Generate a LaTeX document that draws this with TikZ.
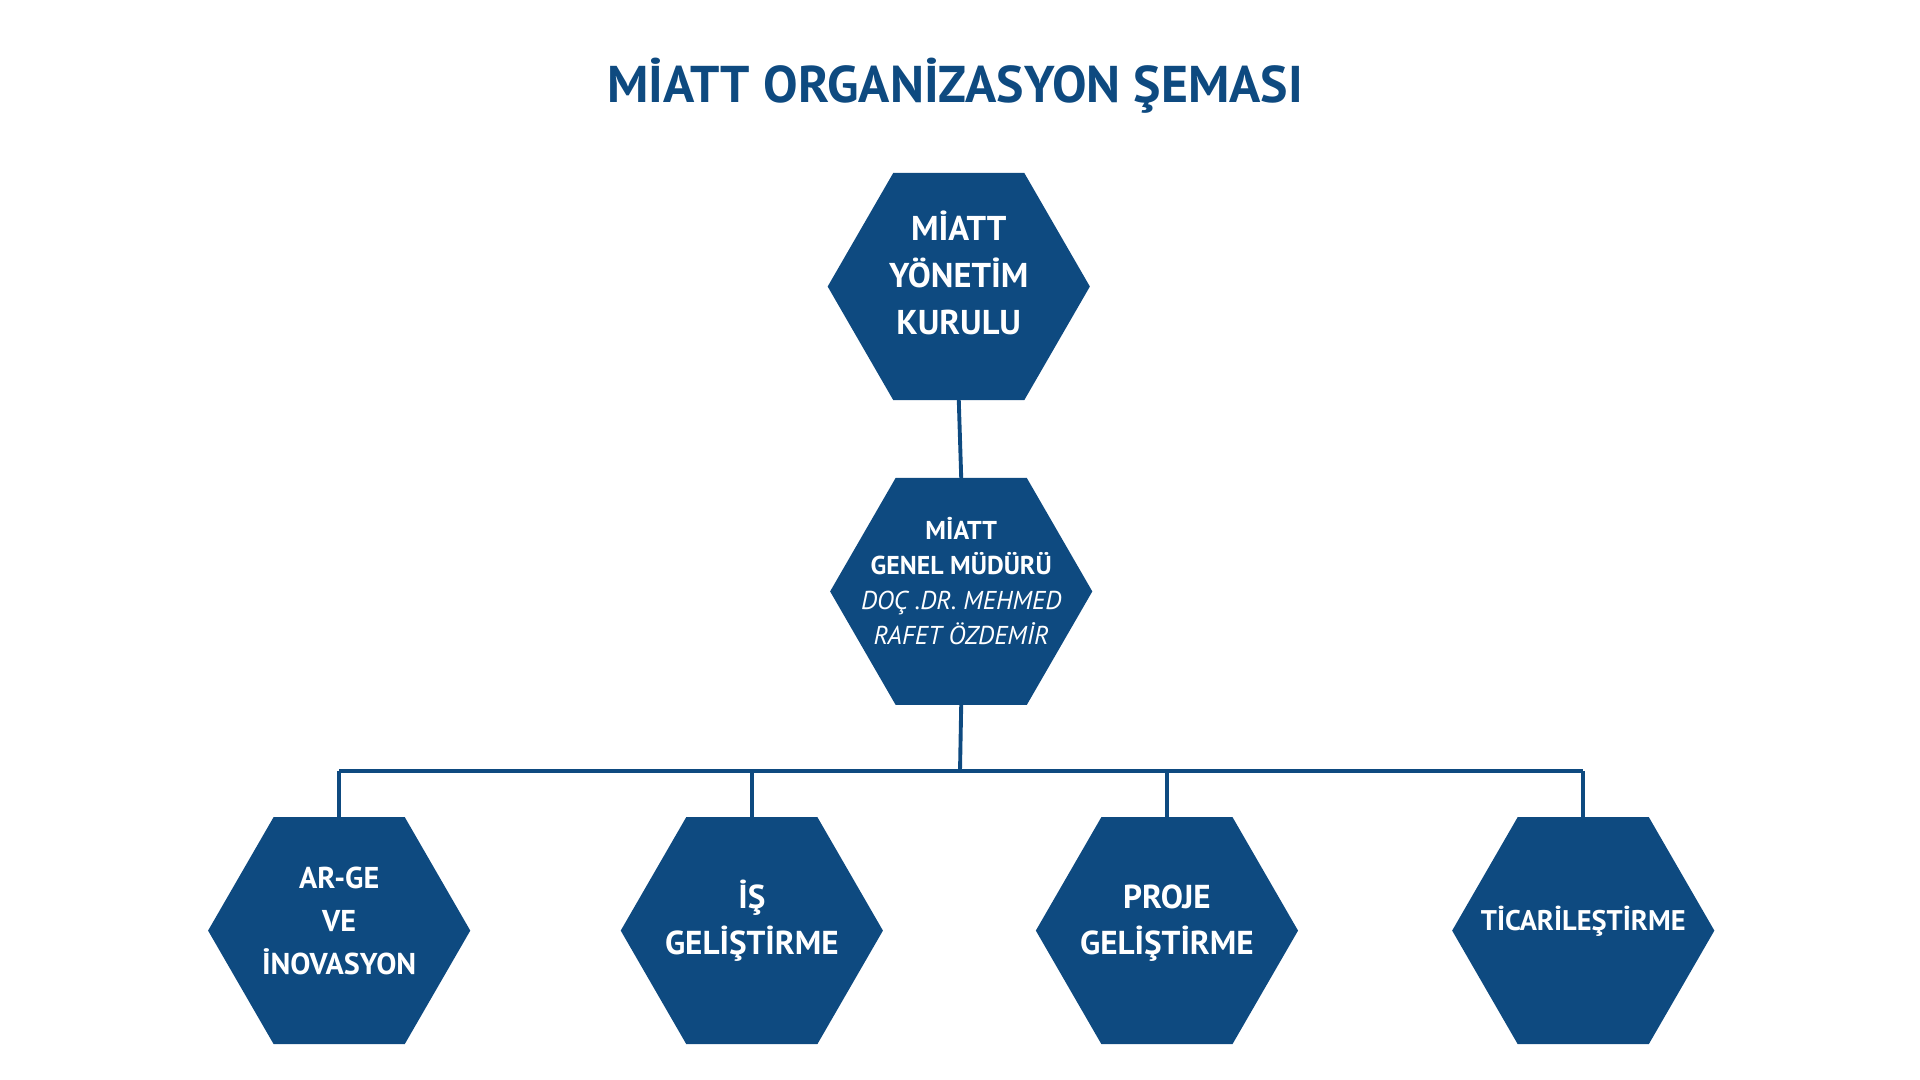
\documentclass[tikz,border=0pt]{standalone}
\usepackage{fontspec}
\setmainfont{PT Sans}
\usetikzlibrary{shapes.geometric}
\definecolor{miattblue}{HTML}{0E4A80}
\newcommand{\hexlabel}[1]{\smash{\makebox[0pt]{\begin{tabular}{@{}c@{}}#1\end{tabular}}}}

\begin{document}
\begin{tikzpicture}[x=0.01cm,y=-0.01cm,
    hexbox/.style={regular polygon,regular polygon sides=6,fill=miattblue,
      minimum size=2.14cm,inner sep=0pt,outer sep=0pt,text=white,
      font=\bfseries},
    link/.style={draw=miattblue,line width=0.9pt}]
  \useasboundingbox (0,0) rectangle (1568,882);
  \node[text=miattblue,font=\bfseries\fontsize{12}{14}\selectfont] (title) at (780,70) {MİATT ORGANİZASYON ŞEMASI};
  \node[hexbox,font=\bfseries\fontsize{8}{11}\selectfont] (board) at (783,234) {\hexlabel{MİATT\\YÖNETİM\\KURULU}};
  \node[hexbox,font=\fontsize{6}{8.2}\selectfont] (gm) at (785,483)
    {\hexlabel{\textbf{MİATT}\\\textbf{GENEL MÜDÜRÜ}\\\textit{DOÇ .DR. MEHMED}\\\textit{RAFET ÖZDEMİR}}};
  \node[hexbox,font=\bfseries\fontsize{7}{10}\selectfont] (arge) at (277,760) {\hexlabel{AR-GE\\VE\\İNOVASYON}};
  \node[hexbox,font=\bfseries\fontsize{7.7}{10.7}\selectfont] (is) at (614,760) {\hexlabel{İŞ\\GELİŞTİRME}};
  \node[hexbox,font=\bfseries\fontsize{7.7}{10.7}\selectfont] (proje) at (953,760) {\hexlabel{PROJE\\GELİŞTİRME}};
  \node[hexbox,font=\bfseries\fontsize{6.6}{9}\selectfont] (ticari) at (1293,760) {\hexlabel{TİCARİLEŞTİRME}};
  \coordinate (bus) at (784,630);
  \draw[link] (board.south) -- (gm.north);
  \draw[link] (gm.south) -- (bus);
  \draw[link] (arge.north |- bus) -- (ticari.north |- bus);
  \foreach \n in {arge,is,proje,ticari}
    \draw[link] (\n.north |- bus) -- (\n.north);
\end{tikzpicture}
\end{document}
